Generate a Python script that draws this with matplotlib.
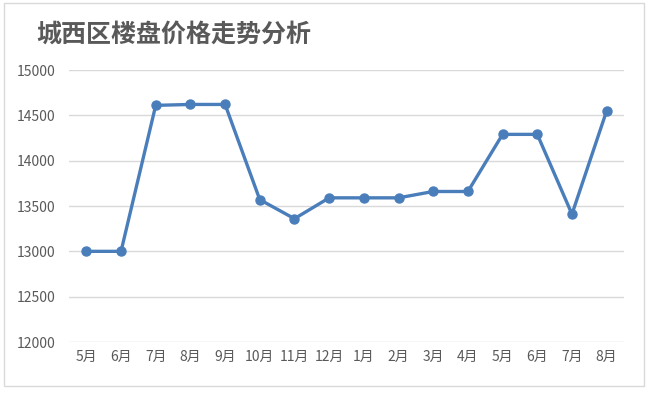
import matplotlib
matplotlib.use("Agg")
import matplotlib.pyplot as plt
from matplotlib.patches import Rectangle

plt.rcParams['font.family'] = ['Noto Sans CJK SC', 'DejaVu Sans']

months = ["5月", "6月", "7月", "8月", "9月", "10月", "11月", "12月",
          "1月", "2月", "3月", "4月", "5月", "6月", "7月", "8月"]
prices = [13000, 13000, 14610, 14620, 14620, 13570, 13360, 13590,
          13590, 13590, 13660, 13660, 14290, 14290, 13410, 14550]
yticks = [12000, 12500, 13000, 13500, 14000, 14500, 15000]
title = "城西区楼盘价格走势分析"

W, H = 650, 394
fig = plt.figure(figsize=(W / 100, H / 100), dpi=100)
fig.patch.set_facecolor("white")

# outer chart frame
fig.patches.append(Rectangle((4 / W, 1 - 386 / H), 640 / W, 383 / H,
                             transform=fig.transFigure, fill=False,
                             edgecolor="#d9d9d9", linewidth=1.0))

left, right, top, bottom = 69, 624, 70, 342
ax = fig.add_axes([left / W, 1 - bottom / H, (right - left) / W, (bottom - top) / H])

x = list(range(len(months)))
ax.plot(x, prices, color="#4a7ebb", linewidth=2.4, marker="o",
        markersize=6.5, markeredgecolor="#4a7ebb", markerfacecolor="#4a7ebb",
        solid_capstyle="round", solid_joinstyle="round", zorder=3)

ax.set_xlim(-0.5, len(months) - 0.5)
ax.set_ylim(12000, 15000)
ax.set_yticks(yticks)
ax.set_yticklabels([str(v) for v in yticks])
ax.set_xticks(x)
ax.set_xticklabels(months)
ax.grid(axis="y", color="#d9d9d9", linewidth=1.0)
ax.set_axisbelow(True)
for s in ax.spines.values():
    s.set_visible(False)
ax.tick_params(axis="both", length=0, colors="#595959", labelsize=10)
ax.tick_params(axis="y", pad=10)
ax.tick_params(axis="x", pad=6)

fig.text(36 / W, 1 - 35 / H, title, fontsize=18, color="#595959",
         ha="left", va="center", fontweight="bold")

fig.savefig("out.png", dpi=100)
